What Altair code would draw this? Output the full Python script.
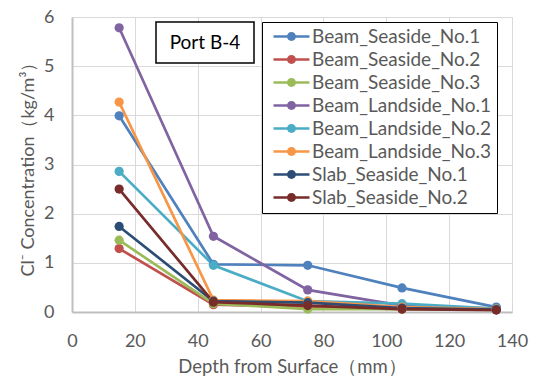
import altair as alt
import pandas as pd

depths = [15, 45, 75, 105, 135]
series_names = [
    "Beam_Seaside_No.1", "Beam_Seaside_No.2", "Beam_Seaside_No.3",
    "Beam_Landside_No.1", "Beam_Landside_No.2", "Beam_Landside_No.3",
    "Slab_Seaside_No.1", "Slab_Seaside_No.2",
]
beam_seaside_1 = [3.99, 0.97, 0.95, 0.49, 0.10]
beam_seaside_2 = [1.29, 0.15, 0.10, 0.06, 0.05]
beam_seaside_3 = [1.46, 0.17, 0.06, 0.06, 0.05]
beam_landside_1 = [5.78, 1.54, 0.45, 0.13, 0.07]
beam_landside_2 = [2.86, 0.95, 0.22, 0.17, 0.07]
beam_landside_3 = [4.27, 0.24, 0.22, 0.10, 0.06]
slab_seaside_1 = [1.74, 0.22, 0.19, 0.08, 0.05]
slab_seaside_2 = [2.50, 0.20, 0.13, 0.06, 0.04]
colors = ["#4F81BD", "#C0504D", "#9BBB59", "#8064A2", "#4BACC6", "#F79646", "#2C4D75", "#772C2A"]
annotation = ["Port B-4"]

all_values = [beam_seaside_1, beam_seaside_2, beam_seaside_3, beam_landside_1,
              beam_landside_2, beam_landside_3, slab_seaside_1, slab_seaside_2]
rows = []
for i, (name, vals) in enumerate(zip(series_names, all_values)):
    for d, v in zip(depths, vals):
        rows.append({"series": name, "depth": d, "value": v, "order": i})
df = pd.DataFrame(rows)

FONT = "Lato"
GRAY = "#595959"

xenc = alt.X("depth:Q", scale=alt.Scale(domain=[0, 140], nice=False),
             axis=alt.Axis(values=list(range(0, 141, 20)), title="Depth from Surface（mm）",
                           grid=True, gridColor="#D9D9D9", gridWidth=1,
                           domainColor="#BFBFBF", domainWidth=2, ticks=False,
                           labelFlush=False,
                           labelPadding=20, labelFontSize=18, labelColor=GRAY, labelFont=FONT,
                           titleFontSize=18.5, titleColor=GRAY, titleFont=FONT, titleFontWeight="normal",
                           titlePadding=7))
yenc = alt.Y("value:Q", scale=alt.Scale(domain=[0, 6], nice=False),
             axis=alt.Axis(values=[0, 1, 2, 3, 4, 5, 6], title="Cl⁻ Concentration（kg/m³）",
                           grid=True, gridColor="#D9D9D9", gridWidth=1,
                           domainColor="#BFBFBF", domainWidth=2, ticks=False,
                           labelFlush=False,
                           labelPadding=18, labelFontSize=18, labelColor=GRAY, labelFont=FONT,
                           titleFontSize=18, titleColor=GRAY, titleFont=FONT, titleFontWeight="normal",
                           titlePadding=6))
cscale = alt.Scale(domain=series_names, range=colors)

lines = alt.Chart(df).mark_line(strokeWidth=2.7).encode(
    x=xenc, y=yenc,
    color=alt.Color("series:N", scale=cscale, legend=None),
    order="depth:Q",
)

legend_path = ("M-0.43,-0.18 L4.71,-0.18 L4.71,0.18 L-0.43,0.18 Z "
               "M1.5,0 A0.64,0.64 0 1,1 2.78,0 A0.64,0.64 0 1,1 1.5,0 Z")

points = alt.Chart(df).mark_point(filled=True, size=85, opacity=1, shape="circle").encode(
    x=xenc, y=yenc,
    color=alt.Color("series:N", scale=cscale,
                    legend=alt.Legend(title=None, orient="none", legendX=190, legendY=5,
                                      symbolType=legend_path, symbolSize=196,
                                      labelFont=FONT, labelFontSize=19, labelColor=GRAY,
                                      labelOffset=26, rowPadding=3, padding=5, labelLimit=400,
                                      strokeColor="black", fillColor="white",
                                      labelExpr="datum.label + '\u00a0\u00a0\u00a0'",
                                      symbolOpacity=1)),
)

ann_df = pd.DataFrame({"label": annotation})
box = alt.Chart(ann_df).mark_rect(fill="white", stroke="black", strokeWidth=1.5).encode(
    x=alt.value(84), x2=alt.value(182), y=alt.value(5), y2=alt.value(46))
txt = alt.Chart(ann_df).mark_text(font=FONT, fontSize=19, color="black", align="center",
                                  baseline="middle").encode(
    x=alt.value(133), y=alt.value(25.5), text="label:N")

chart = alt.layer(lines, points, box, txt).resolve_legend(color="independent").properties(
    width=440, height=295,
    padding={"left": 72, "top": 17, "right": 24, "bottom": 64},
    autosize=alt.AutoSizeParams(type="none"),
).configure_view(stroke=None)

chart.save("out.html", embed_options={"renderer": "svg", "actions": False})
